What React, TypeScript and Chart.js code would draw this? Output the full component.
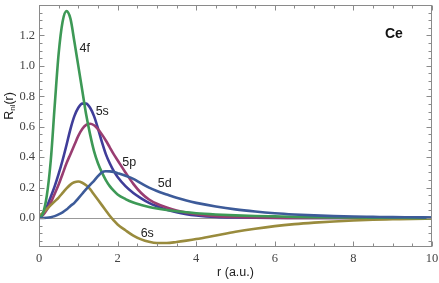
import { useEffect, useRef } from "react";
import { Chart, registerables } from "chart.js";

Chart.register(...registerables);

// radial grid (a.u.)
const R = [0, 0.1, 0.2, 0.3, 0.4, 0.5, 0.6, 0.7, 0.8, 0.9, 1.0, 1.1, 1.2, 1.3, 1.4, 1.5, 1.6, 1.7, 1.8, 1.9, 2.0, 2.2, 2.4, 2.6, 2.8, 3.0, 3.25, 3.5, 3.75, 4.0, 4.5, 5.0, 5.5, 6.0, 6.5, 7.0, 7.5, 8.0, 8.5, 9.0, 9.5, 10.0];

const R_5S = [0, 0.03, 0.075, 0.14, 0.21, 0.29, 0.38, 0.48, 0.585, 0.67, 0.725, 0.752, 0.752, 0.725, 0.67, 0.59, 0.5, 0.42, 0.36, 0.31, 0.27, 0.21, 0.165, 0.13, 0.1, 0.078, 0.055, 0.038, 0.026, 0.018, 0.008, 0.004, 0.002, 0.001, 0.0008, 0.0006, 0.0005, 0.0004, 0.0003, 0.0003, 0.0002, 0.0002];
const R_5P = [0, 0.02, 0.055, 0.1, 0.16, 0.22, 0.29, 0.36, 0.42, 0.48, 0.54, 0.585, 0.612, 0.62, 0.61, 0.585, 0.55, 0.51, 0.465, 0.42, 0.38, 0.3, 0.225, 0.165, 0.122, 0.094, 0.07, 0.05, 0.036, 0.026, 0.013, 0.007, 0.004, 0.002, 0.0015, 0.001, 0.0008, 0.0006, 0.0005, 0.0004, 0.0003, 0.0002];
const R_6S = [0.012, 0.035, 0.06, 0.085, 0.11, 0.135, 0.165, 0.195, 0.22, 0.235, 0.24, 0.232, 0.215, 0.19, 0.155, 0.12, 0.085, 0.05, 0.015, -0.015, -0.042, -0.08, -0.115, -0.14, -0.156, -0.164, -0.164, -0.157, -0.148, -0.138, -0.114, -0.09, -0.07, -0.053, -0.04, -0.03, -0.022, -0.016, -0.011, -0.008, -0.005, -0.003];
const R_4F = [0, 0.03, 0.15, 0.38, 0.74, 1.08, 1.29, 1.36, 1.31, 1.16, 1.0, 0.84, 0.68, 0.55, 0.44, 0.36, 0.3, 0.25, 0.21, 0.18, 0.155, 0.125, 0.102, 0.086, 0.073, 0.063, 0.053, 0.045, 0.038, 0.032, 0.024, 0.018, 0.014, 0.011, 0.008, 0.006, 0.0045, 0.0035, 0.0027, 0.002, 0.0015, 0.001];
const R_5D = [0, 0.0005, 0.002, 0.006, 0.013, 0.024, 0.038, 0.056, 0.08, 0.1, 0.13, 0.16, 0.19, 0.218, 0.245, 0.275, 0.3, 0.308, 0.307, 0.303, 0.295, 0.278, 0.258, 0.228, 0.2, 0.178, 0.155, 0.133, 0.115, 0.1, 0.076, 0.057, 0.043, 0.032, 0.024, 0.018, 0.013, 0.01, 0.008, 0.006, 0.005, 0.004];

const SERIES_NAMES = ["5d", "4f", "6s", "5p", "5s"];
const SERIES_VALUES = [R_5D, R_4F, R_6S, R_5P, R_5S];
const SERIES_COLORS = ["#3d5b99", "#3d9956", "#998b3d", "#993d71", "#3f3d99"];
// label anchor (r, value) for each curve label
const LABEL_R = [3.2, 1.164, 2.755, 2.297, 1.61];
const LABEL_V = [0.228, 1.111, -0.104, 0.367, 0.70];

const X_MAJOR_TICKS = [0, 2, 4, 6, 8, 10];
const Y_MAJOR_TICKS = [0.0, 0.2, 0.4, 0.6, 0.8, 1.0, 1.2];
const X_TITLE = "r (a.u.)";
const ELEMENT = "Ce";

const FRAME = "#8a8a8a";
const SERIF = "'Liberation Serif', 'DejaVu Serif', serif";
const SANS = "'Liberation Sans', Arial, sans-serif";

const decorPlugin = {
  id: "decor",
  beforeDatasetsDraw(chart: any) {
    const { ctx, chartArea: a, scales } = chart;
    const y = scales.y;
    ctx.save();
    ctx.strokeStyle = "#999999";
    ctx.lineWidth = 1;
    const y0 = Math.round(y.getPixelForValue(0)) + 0.5;
    ctx.beginPath();
    ctx.moveTo(a.left, y0);
    ctx.lineTo(a.right, y0);
    ctx.stroke();
    ctx.restore();
  },
  afterDraw(chart: any) {
    const { ctx, chartArea: a, scales } = chart;
    const x = scales.x, y = scales.y;
    ctx.save();
    ctx.strokeStyle = FRAME;
    ctx.lineWidth = 1;
    const L = Math.round(a.left) + 0.5, Rt = Math.round(a.right) - 0.5;
    const T = Math.round(a.top) + 0.5, B = Math.round(a.bottom) - 0.5;
    ctx.strokeRect(L, T, Rt - L, B - T);
    ctx.beginPath();
    for (let k = 0; k <= 20; k++) {
      const px = Math.round(x.getPixelForValue(k * 0.5)) + 0.5;
      const len = k % 4 === 0 ? 5 : 3;
      ctx.moveTo(px, B); ctx.lineTo(px, B - len);
      ctx.moveTo(px, T); ctx.lineTo(px, T + len);
    }
    for (let k = -3; k <= 27; k++) {
      const py = Math.round(y.getPixelForValue(k * 0.05)) + 0.5;
      const len = k % 4 === 0 ? 5 : 3;
      ctx.moveTo(L, py); ctx.lineTo(L + len, py);
      ctx.moveTo(Rt, py); ctx.lineTo(Rt - len, py);
    }
    ctx.stroke();

    // tick labels
    ctx.fillStyle = "#444444";
    ctx.font = "12.5px " + SERIF;
    ctx.textAlign = "center";
    ctx.textBaseline = "middle";
    for (const v of X_MAJOR_TICKS) {
      ctx.fillText(String(v), x.getPixelForValue(v), 259);
    }
    ctx.textAlign = "right";
    for (const v of Y_MAJOR_TICKS) {
      ctx.fillText(v.toFixed(1), a.left - 4, y.getPixelForValue(v));
    }

    // x title
    ctx.fillStyle = "#222222";
    ctx.font = "12.5px " + SANS;
    ctx.textAlign = "center";
    ctx.fillText(X_TITLE, (a.left + a.right) / 2, 273);

    // y title R_nl(r)
    ctx.save();
    ctx.translate(10, 106);
    ctx.rotate(-Math.PI / 2);
    ctx.textAlign = "left";
    ctx.textBaseline = "middle";
    const f1 = "12.5px " + SANS;
    const f2 = "8px " + SANS;
    ctx.font = f1;
    const wR = ctx.measureText("R").width;
    ctx.font = f2;
    const wS = ctx.measureText("nl").width;
    ctx.font = f1;
    const wP = ctx.measureText("(r)").width;
    let cx = -(wR + wS + wP) / 2;
    ctx.fillText("R", cx, 0); cx += wR;
    ctx.font = f2; ctx.fillText("nl", cx, 3); cx += wS;
    ctx.font = f1; ctx.fillText("(r)", cx, 0);
    ctx.restore();

    // element
    ctx.font = "bold 14px " + SANS;
    ctx.textAlign = "center";
    ctx.fillStyle = "#111111";
    ctx.fillText(ELEMENT, x.getPixelForValue(9.03), y.getPixelForValue(1.209));

    // curve labels
    ctx.font = "12.5px " + SANS;
    ctx.fillStyle = "#222222";
    SERIES_NAMES.forEach((n, i) => {
      ctx.fillText(n, x.getPixelForValue(LABEL_R[i]), y.getPixelForValue(LABEL_V[i]));
    });
    ctx.restore();
  },
};

export default function App() {
  const ref = useRef<HTMLCanvasElement>(null);
  useEffect(() => {
    document.body.style.margin = "0";
    const chart = new Chart(ref.current as HTMLCanvasElement, {
      type: "line",
      data: {
        datasets: SERIES_NAMES.map((n, i) => ({
          label: n,
          data: R.map((r, j) => ({ x: r, y: SERIES_VALUES[i][j] })),
          borderColor: SERIES_COLORS[i],
          borderWidth: 2.6,
          pointRadius: 0,
          fill: false,
          cubicInterpolationMode: "monotone" as const,
        })),
      },
      options: {
        animation: false,
        responsive: false,
        devicePixelRatio: 1,
        layout: { padding: { left: 39, right: 7, top: 5, bottom: 36 } },
        plugins: { legend: { display: false }, tooltip: { enabled: false } },
        scales: {
          x: { type: "linear", min: 0, max: 10, display: false },
          y: { type: "linear", min: -0.19, max: 1.4, display: false },
        },
      },
      plugins: [decorPlugin],
    });
    return () => chart.destroy();
  }, []);
  return (
    <div style={{ width: 439, height: 283 }}>
      <canvas ref={ref} width={439} height={283} />
    </div>
  );
}
